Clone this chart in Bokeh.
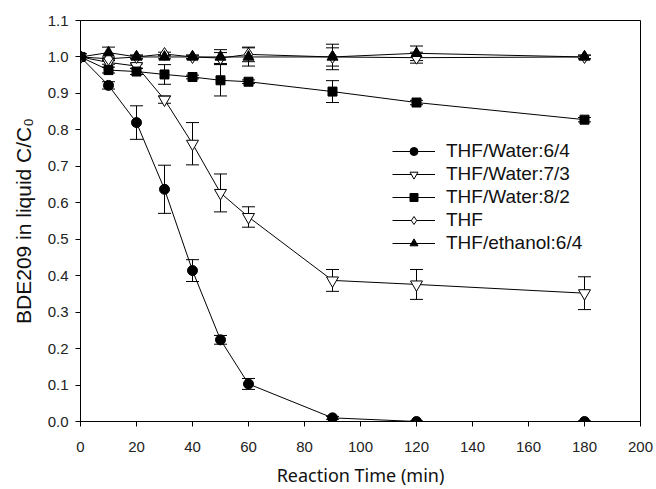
from bokeh.plotting import figure
from bokeh.models import ColumnDataSource, Whisker, Range1d, FixedTicker, Legend, NumeralTickFormatter
from bokeh.embed import file_html
from bokeh.resources import INLINE

time = [0, 10, 20, 30, 40, 50, 60, 90, 120, 180]

w64 = [1.0, 0.922, 0.82, 0.637, 0.414, 0.224, 0.103, 0.010, 0.0, 0.0]
w64_err = [0.0, 0.01, 0.046, 0.066, 0.03, 0.012, 0.015, 0.004, 0.002, 0.002]

w73 = [1.0, 0.985, 0.975, 0.883, 0.762, 0.627, 0.561, 0.387, 0.376, 0.352]
w73_err = [0.0, 0.005, 0.006, 0.01, 0.058, 0.052, 0.028, 0.03, 0.041, 0.045]

w82 = [1.0, 0.964, 0.960, 0.952, 0.945, 0.936, 0.932, 0.905, 0.875, 0.828]
w82_err = [0.0, 0.008, 0.008, 0.027, 0.005, 0.043, 0.005, 0.03, 0.006, 0.006]

thf = [1.0, 0.995, 1.0, 1.008, 1.0, 0.997, 1.007, 1.0, 0.998, 1.0]
thf_err = [0.0, 0.005, 0.005, 0.005, 0.005, 0.015, 0.02, 0.025, 0.015, 0.005]

eth = [1.0, 1.012, 1.0, 1.0, 1.0, 1.0, 1.0, 1.0, 1.01, 1.0]
eth_err = [0.0, 0.015, 0.005, 0.005, 0.005, 0.02, 0.025, 0.035, 0.02, 0.005]

x_ticks = [0, 20, 40, 60, 80, 100, 120, 140, 160, 180, 200]
y_ticks = [0.0, 0.1, 0.2, 0.3, 0.4, 0.5, 0.6, 0.7, 0.8, 0.9, 1.0, 1.1]

series = [
    ("THF/Water:6/4", w64, w64_err, "circle", "black", 10),
    ("THF/Water:7/3", w73, w73_err, "inverted_triangle", "white", 12),
    ("THF/Water:8/2", w82, w82_err, "square", "black", 9),
    ("THF", thf, thf_err, "diamond", "white", 13),
    ("THF/ethanol:6/4", eth, eth_err, "triangle", "black", 11),
]

p = figure(width=656, height=489, output_backend="svg", toolbar_location=None,
           x_range=Range1d(0, 200), y_range=Range1d(0, 1.1))
p.min_border_left = 80
p.min_border_right = 16
p.min_border_top = 20
p.min_border_bottom = 68
p.grid.visible = False
p.outline_line_color = "black"
p.outline_line_width = 1
p.background_fill_color = "white"
p.border_fill_color = "white"

for ax in (p.xaxis[0], p.yaxis[0]):
    ax.major_tick_in = 0
    ax.major_tick_out = 5
    ax.minor_tick_line_color = None
    ax.axis_line_color = "black"
    ax.major_tick_line_color = "black"
    ax.major_label_text_font = "Liberation Sans"
    ax.major_label_text_font_size = "15px"
    ax.major_label_text_color = "#222222"
    ax.axis_label_text_font_style = "normal"
    ax.axis_label_text_color = "#111111"

p.xaxis.ticker = FixedTicker(ticks=x_ticks)
p.yaxis.ticker = FixedTicker(ticks=y_ticks)
p.yaxis.formatter = NumeralTickFormatter(format="0.0")
p.xaxis.major_label_standoff = 15
p.yaxis.major_label_standoff = 7
p.xaxis.axis_label = "Reaction Time (min)"
p.xaxis.axis_label_text_font = "Noto Sans"
p.xaxis.axis_label_text_font_size = "18px"
p.xaxis.axis_label_standoff = 8
p.yaxis.axis_label = "BDE209 in liquid C/C\u2080"
p.yaxis.axis_label_text_font = "Liberation Sans"
p.yaxis.axis_label_text_font_size = "21px"
p.yaxis.axis_label_standoff = 10

items = []
line_renderers = []
for name, vals, errs, marker, fill, size in series:
    src = ColumnDataSource(dict(x=time, y=vals,
                                lo=[v - e for v, e in zip(vals, errs)],
                                hi=[v + e for v, e in zip(vals, errs)]))
    ln = p.line("x", "y", source=src, line_color="black", line_width=1)
    wh = Whisker(base="x", lower="lo", upper="hi", source=src, dimension="height",
                 line_color="black", line_width=1)
    wh.upper_head.size = 13
    wh.lower_head.size = 13
    wh.upper_head.line_color = "black"
    wh.lower_head.line_color = "black"
    p.add_layout(wh)
    line_renderers.append((name, ln, src, marker, fill, size))

for name, ln, src, marker, fill, size in line_renderers:
    sc = p.scatter("x", "y", source=src, marker=marker, size=size,
                   fill_color=fill, line_color="black", line_width=1)
    items.append((name, [ln, sc]))

legend = Legend(items=items, location=(312, 167))
legend.border_line_color = None
legend.background_fill_alpha = 0
legend.padding = 0
legend.margin = 0
legend.spacing = 1
legend.glyph_width = 43
legend.glyph_height = 20
legend.label_height = 20
legend.label_standoff = 11
legend.label_text_font = "Liberation Sans"
legend.label_text_font_size = "19px"
legend.label_text_color = "#111111"
p.add_layout(legend, "center")

open("out.html", "w").write(file_html(p, INLINE))
